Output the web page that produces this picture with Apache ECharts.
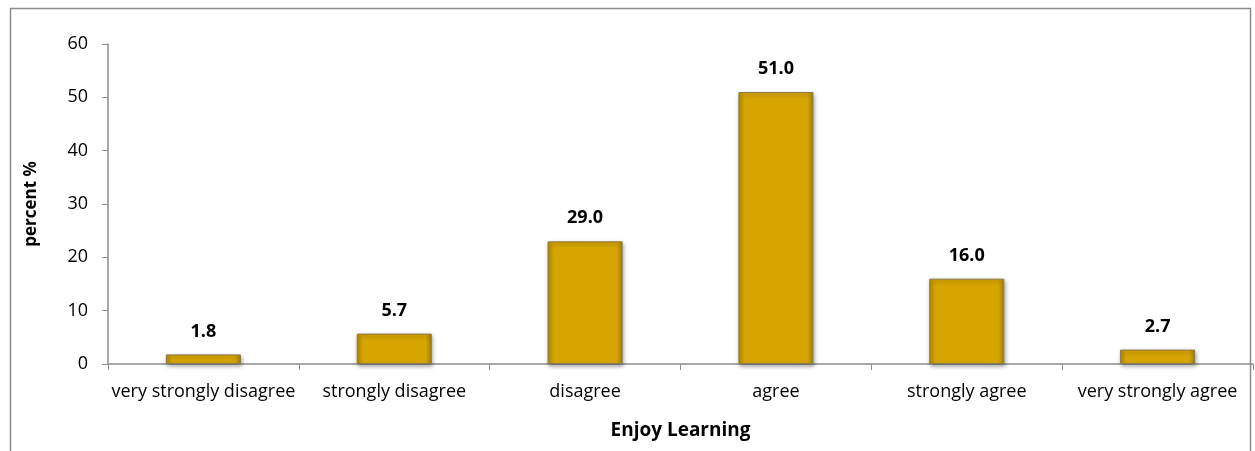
<!DOCTYPE html>
<html>
<head>
<meta charset="utf-8">
<script src="https://cdn.jsdelivr.net/npm/echarts@6/dist/echarts.min.js"></script>
<style>html,body{margin:0;padding:0;background:#fff;}#c{width:1255px;height:451px;}</style>
</head>
<body>
<div id="c"></div>
<script>
const categories = ["very strongly disagree", "strongly disagree", "disagree", "agree", "strongly agree", "very strongly agree"];
const barValues = [1.8, 5.7, 23.0, 51.0, 16.0, 2.7];
const barLabels = ["1.8", "5.7", "29.0", "51.0", "16.0", "2.7"];
const yTicks = [0, 10, 20, 30, 40, 50, 60];

const FONT = "'Open Sans', 'Noto Sans', sans-serif";
const chart = echarts.init(document.getElementById('c'));
chart.setOption({
  animation: false,
  backgroundColor: '#fff',
  graphic: [{
    type: 'rect', left: 8, top: 6, z: -1,
    shape: { width: 1240, height: 450 },
    style: { fill: 'none', stroke: '#8c8c8c', lineWidth: 1.5 }
  }],
  grid: { left: 108, right: 2, top: 44, bottom: 87 },
  xAxis: {
    type: 'category',
    data: categories,
    name: 'Enjoy Learning',
    nameLocation: 'middle',
    nameGap: 57,
    nameTextStyle: { fontFamily: FONT, fontWeight: 'bold', fontSize: 19, color: '#000' },
    axisLine: { lineStyle: { color: '#8c8c8c', width: 1.5 } },
    axisTick: { show: true, length: 6, alignWithLabel: false, lineStyle: { color: '#8c8c8c' } },
    axisLabel: { fontFamily: FONT, fontSize: 18, color: '#000', margin: 19, interval: 0 }
  },
  yAxis: {
    type: 'value',
    min: yTicks[0], max: yTicks[yTicks.length - 1], interval: 10,
    name: 'percent %',
    nameLocation: 'middle',
    nameGap: 68,
    nameRotate: 90,
    nameTextStyle: { fontFamily: FONT, fontWeight: 'bold', fontSize: 17, color: '#000' },
    axisLine: { show: true, lineStyle: { color: '#8c8c8c', width: 1.5 } },
    axisTick: { show: true, length: 6, inside: false, lineStyle: { color: '#8c8c8c' } },
    splitLine: { show: false },
    axisLabel: { fontFamily: FONT, fontSize: 18, color: '#000', margin: 20 }
  },
  series: [{
    type: 'bar',
    data: barValues,
    barWidth: 75,
    itemStyle: {
      color: {
        type: 'linear', x: 0, y: 0, x2: 1, y2: 0,
        colorStops: [
          { offset: 0, color: '#B88D00' },
          { offset: 0.08, color: '#D6A500' },
          { offset: 0.92, color: '#D6A500' },
          { offset: 1, color: '#A88300' }
        ]
      },
      borderColor: '#8a7a4a',
      borderWidth: 1,
      shadowColor: 'rgba(0,0,0,0.35)',
      shadowBlur: 4,
      shadowOffsetX: 1,
      shadowOffsetY: 2
    },
    label: {
      show: true,
      position: 'top',
      distance: 14,
      fontFamily: FONT,
      fontWeight: 'bold',
      fontSize: 18,
      color: '#000',
      formatter: p => barLabels[p.dataIndex]
    }
  }]
});
</script>
</body>
</html>
